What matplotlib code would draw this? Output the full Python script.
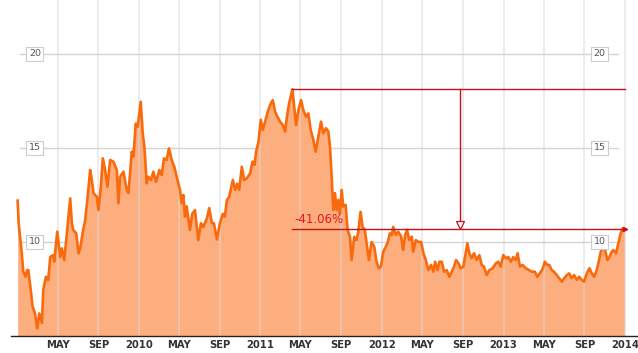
import pandas as pd
import matplotlib
matplotlib.use("Agg")
import matplotlib.pyplot as plt
import matplotlib.dates as mdates

# price series
dates = [
    "2009-01-01", "2009-01-04", "2009-01-13", "2009-01-18", "2009-01-25", "2009-01-29",
    "2009-02-02", "2009-02-07", "2009-02-15", "2009-02-22", "2009-03-01", "2009-03-07",
    "2009-03-15", "2009-03-19", "2009-03-27", "2009-04-03", "2009-04-09", "2009-04-17",
    "2009-04-21", "2009-04-30", "2009-05-09", "2009-05-14", "2009-05-21", "2009-05-29",
    "2009-06-08", "2009-06-13", "2009-06-17", "2009-06-26", "2009-07-03", "2009-07-08",
    "2009-07-16", "2009-07-23", "2009-07-30", "2009-08-07", "2009-08-12", "2009-08-17",
    "2009-08-27", "2009-09-01", "2009-09-08", "2009-09-14", "2009-09-21", "2009-09-28",
    "2009-10-06", "2009-10-16", "2009-10-26", "2009-10-31", "2009-11-05", "2009-11-15",
    "2009-11-25", "2009-11-30", "2009-12-05", "2009-12-10", "2009-12-15", "2009-12-22",
    "2009-12-28", "2010-01-06", "2010-01-12", "2010-01-17", "2010-01-24", "2010-01-29",
    "2010-02-06", "2010-02-13", "2010-02-21", "2010-03-03", "2010-03-10", "2010-03-17",
    "2010-03-25", "2010-04-01", "2010-04-09", "2010-04-17", "2010-04-24", "2010-05-04",
    "2010-05-09", "2010-05-14", "2010-05-19", "2010-05-24", "2010-06-03", "2010-06-10",
    "2010-06-18", "2010-06-28", "2010-07-06", "2010-07-13", "2010-07-24", "2010-07-31",
    "2010-08-08", "2010-08-14", "2010-08-23", "2010-09-01", "2010-09-10", "2010-09-16",
    "2010-09-22", "2010-09-29", "2010-10-10", "2010-10-17", "2010-10-23", "2010-10-29",
    "2010-11-06", "2010-11-13", "2010-11-21", "2010-12-01", "2010-12-08", "2010-12-14",
    "2010-12-19", "2010-12-26", "2011-01-02", "2011-01-08", "2011-01-15", "2011-01-23",
    "2011-01-30", "2011-02-07", "2011-02-14", "2011-02-21", "2011-03-01", "2011-03-09",
    "2011-03-16", "2011-03-21", "2011-03-28", "2011-04-07", "2011-04-18", "2011-04-25",
    "2011-05-03", "2011-05-10", "2011-05-18", "2011-05-25", "2011-06-01", "2011-06-09",
    "2011-06-16", "2011-06-24", "2011-07-02", "2011-07-09", "2011-07-17", "2011-07-24",
    "2011-07-29", "2011-08-03", "2011-08-08", "2011-08-13", "2011-08-18", "2011-08-23",
    "2011-08-28", "2011-09-02", "2011-09-07", "2011-09-14", "2011-09-20", "2011-09-27",
    "2011-10-02", "2011-10-10", "2011-10-17", "2011-10-22", "2011-10-29", "2011-11-04",
    "2011-11-11", "2011-11-16", "2011-11-23", "2011-12-01", "2011-12-09", "2011-12-16",
    "2011-12-23", "2011-12-29", "2012-01-05", "2012-01-13", "2012-01-19", "2012-01-25",
    "2012-01-31", "2012-02-04", "2012-02-12", "2012-02-19", "2012-02-28", "2012-03-05",
    "2012-03-11", "2012-03-17", "2012-03-23", "2012-03-31", "2012-04-04", "2012-04-12",
    "2012-04-20", "2012-04-28", "2012-05-05", "2012-05-12", "2012-05-20", "2012-05-28",
    "2012-06-04", "2012-06-09", "2012-06-16", "2012-06-22", "2012-06-29", "2012-07-06",
    "2012-07-14", "2012-07-22", "2012-07-29", "2012-08-05", "2012-08-11", "2012-08-18",
    "2012-08-25", "2012-09-02", "2012-09-07", "2012-09-14", "2012-09-20", "2012-09-27",
    "2012-10-04", "2012-10-12", "2012-10-20", "2012-10-27", "2012-11-03", "2012-11-11",
    "2012-11-19", "2012-11-29", "2012-12-09", "2012-12-16", "2012-12-23", "2012-12-31",
    "2013-01-08", "2013-01-15", "2013-01-23", "2013-01-30", "2013-02-07", "2013-02-12",
    "2013-02-19", "2013-02-27", "2013-03-09", "2013-03-19", "2013-03-26", "2013-04-05",
    "2013-04-12", "2013-04-20", "2013-04-29", "2013-05-05", "2013-05-12", "2013-05-18",
    "2013-05-26", "2013-06-01", "2013-06-10", "2013-06-17", "2013-06-25", "2013-07-02",
    "2013-07-10", "2013-07-17", "2013-07-25", "2013-08-01", "2013-08-09", "2013-08-16",
    "2013-08-24", "2013-08-31", "2013-09-08", "2013-09-16", "2013-09-23", "2013-09-30",
    "2013-10-08", "2013-10-15", "2013-10-20", "2013-10-26", "2013-11-02", "2013-11-09",
    "2013-11-15", "2013-11-22", "2013-11-27", "2013-12-05", "2013-12-12", "2013-12-19",
    "2013-12-25", "2013-12-31",
]
prices = [
    12.2, 11.0, 9.48, 8.42, 8.15, 8.5,
    8.5, 7.8, 6.56, 6.22, 5.4, 6.2,
    5.7, 7.45, 8.15, 7.98, 9.2, 9.3,
    8.95, 10.55, 9.2, 9.66, 9.04, 10.46,
    12.32, 11.0, 10.64, 10.46, 9.4, 9.66,
    10.55, 11.17, 12.32, 13.83, 13.3, 12.6,
    12.4, 11.7, 12.94, 14.45, 13.83, 12.94,
    14.36, 14.27, 13.83, 12.06, 13.47, 13.74,
    12.77, 12.6, 13.65, 14.8, 14.54, 16.3,
    16.13, 17.46, 15.78, 15.07, 13.12, 13.47,
    13.3, 13.74, 13.2, 13.83, 13.56, 14.45,
    14.36, 14.98, 14.36, 14.0, 13.47, 12.77,
    12.06, 12.5, 11.35, 11.9, 10.64, 11.5,
    11.7, 10.1, 11.0, 10.8, 11.26, 11.8,
    11.0, 11.0, 10.14, 11.0, 11.5, 11.35,
    12.23, 12.4, 13.3, 12.77, 13.1, 12.77,
    14.0, 13.3, 13.39, 13.65, 14.27, 14.1,
    14.8, 15.33, 16.5, 15.96, 16.4, 16.93,
    17.29, 17.55, 16.93, 16.66, 16.4, 16.22,
    15.87, 16.58, 17.37, 18.12, 16.22, 17.0,
    17.55, 17.0, 16.66, 16.84, 15.96, 15.43,
    14.8, 15.6, 16.4, 15.78, 16.05, 15.87,
    15.07, 13.47, 11.7, 12.6, 11.7, 12.23,
    11.5, 12.77, 11.88, 11.97, 10.64, 10.28,
    9.04, 10.28, 10.1, 10.55, 11.6, 10.8,
    10.64, 9.93, 9.04, 10.0, 9.75, 8.95,
    8.6, 8.69, 9.48, 9.75, 10.0, 10.46,
    10.37, 10.8, 10.37, 10.55, 10.28, 9.57,
    10.37, 10.64, 10.1, 10.28, 9.48, 10.1,
    10.0, 10.0, 9.4, 9.04, 8.5, 8.78,
    8.42, 8.95, 8.5, 8.95, 8.95, 8.42,
    8.5, 8.15, 8.42, 8.69, 9.04, 8.87,
    8.6, 8.69, 9.2, 9.93, 9.4, 9.13,
    9.4, 9.04, 9.3, 8.78, 8.69, 8.24,
    8.5, 8.6, 8.87, 8.95, 8.69, 9.3,
    9.13, 9.2, 8.95, 9.2, 9.04, 9.4,
    8.69, 8.78, 8.6, 8.5, 8.42, 8.42,
    8.15, 8.33, 8.6, 8.95, 8.78, 8.78,
    8.5, 8.42, 8.24, 8.07, 7.89, 8.07,
    8.24, 8.33, 8.07, 8.24, 7.98, 8.15,
    7.98, 7.89, 8.33, 8.6, 8.33, 8.15,
    8.5, 9.04, 9.48, 9.66, 9.57, 9.04,
    9.2, 9.48, 9.57, 9.4, 9.93, 10.46,
    10.73, 10.68,
]

tick_dates = ["2009-05-01", "2009-09-01", "2010-01-01", "2010-05-01", "2010-09-01",
              "2011-01-01", "2011-05-01", "2011-09-01", "2012-01-01", "2012-05-01",
              "2012-09-01", "2013-01-01", "2013-05-01", "2013-09-01", "2014-01-01"]
tick_labels = ["MAY", "SEP", "2010", "MAY", "SEP", "2011", "MAY", "SEP", "2012",
               "MAY", "SEP", "2013", "MAY", "SEP", "2014"]
y_levels = [10, 15, 20]

# drawdown annotation
peak_date, peak_value = "2011-04-07", 18.12
last_date, last_value = "2013-12-31", 10.68
drop_date = "2012-08-22"
drop_label = "-41.06%"

dts = pd.to_datetime(dates)
ticks = pd.to_datetime(tick_dates)

fig = plt.figure(figsize=(6.38, 3.53), dpi=100)
ax = fig.add_axes([11 / 638, 17 / 353, 627 / 638, 336 / 353])

ax.fill_between(dts, 0, prices, color="#fdae7e", lw=0, zorder=1)
ax.plot(dts, prices, color="#f96a0c", lw=1.9, zorder=4, solid_joinstyle="round")

for t in ticks:
    ax.axvline(t, color="#d8d8d8", lw=1.2, alpha=0.55, zorder=2)
for v in y_levels:
    ax.axhline(v, xmin=0.014, xmax=0.968, color="#d4d4d4", lw=1.0, zorder=0.5)

ax.set_xlim(pd.Timestamp("2008-12-12"), pd.Timestamp("2014-02-09"))
ax.set_ylim(5, 22.87)

ax.set_xticks(ticks)
ax.set_xticklabels(tick_labels, fontsize=7.2, fontweight="bold", color="#333333",
                   family=["Liberation Sans Narrow", "DejaVu Sans"])
ax.tick_params(axis="x", length=0, pad=3)
ax.set_yticks([])
for s in ["top", "left", "right"]:
    ax.spines[s].set_visible(False)
ax.spines["bottom"].set_color("#222222")
ax.spines["bottom"].set_linewidth(1.0)

ytr = ax.get_yaxis_transform()
for v in y_levels:
    for xa in (0.038, 0.939):
        ax.text(xa, v, str(v), transform=ytr, ha="center", va="center",
                fontsize=6.8, color="#555555", zorder=6,
                bbox=dict(boxstyle="square,pad=0.25", fc="white", ec="#cccccc", lw=0.8))

red = "#c8101e"
pd_peak = pd.Timestamp(peak_date)
pd_last = pd.Timestamp(last_date)
pd_drop = pd.Timestamp(drop_date)
ax.plot([pd_peak, pd_last], [peak_value, peak_value], color=red, lw=1.0, zorder=5)
ax.plot([pd_peak, pd_last], [last_value, last_value], color=red, lw=1.0, zorder=5)
ax.plot([pd_drop, pd_drop], [peak_value, last_value + 0.25], color=red, lw=1.0, zorder=5)
ax.plot([pd_drop], [last_value + 0.22], marker="v", ms=6, mfc="white", mec=red,
        mew=0.9, zorder=6)
ax.plot([pd_last], [last_value], marker=">", ms=3, color=red, zorder=6)
ax.text(pd.Timestamp("2011-04-14"), 11.22, drop_label, color="#e8141c",
        fontsize=8.5, ha="left", va="center", zorder=6)

fig.savefig("out.png", dpi=100)
